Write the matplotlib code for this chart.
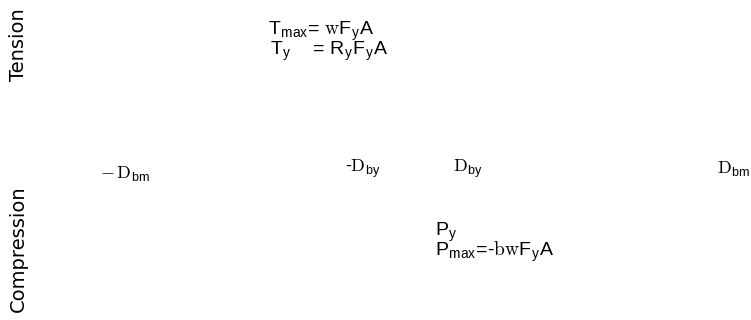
import matplotlib
matplotlib.use("Agg")
import matplotlib.pyplot as plt

plt.rcParams['mathtext.fontset'] = 'custom'
plt.rcParams['mathtext.rm'] = 'cmr10'
plt.rcParams['mathtext.sf'] = 'Liberation Sans'
plt.rcParams['mathtext.it'] = 'cmr10'

# Displacement labels (x in units of D_by), row at force = 0
disp_labels = [r'$-\,\mathrm{D}_{\mathsf{bm}}$', r'-$\mathrm{D}_{\mathsf{by}}$',
               r'$\mathrm{D}_{\mathsf{by}}$', r'$\mathrm{D}_{\mathsf{bm}}$']
disp_x = [-6.18, -1.37, 0.75, 5.92]
disp_y = [-0.04, 0.01, 0.01, 0.01]

# Force annotations
force_labels = [r'T$_{\mathsf{max}}$= $\mathrm{w}$F$_{\mathsf{y}}$A',
                r'T$_{\mathsf{y}}$    = R$_{\mathsf{y}}$F$_{\mathsf{y}}$A',
                r'P$_{\mathsf{y}}$',
                r'P$_{\mathsf{max}}$=-$\mathrm{bw}$F$_{\mathsf{y}}$A']
force_x = [-2.88, -2.84, 0.39, 0.39]
force_y = [1.35, 1.15, -0.66, -0.86]

side_labels = ['Tension', 'Compression']
side_y = [1.25, -0.79]

fig = plt.figure(figsize=(7.51, 3.2), dpi=100)
ax = fig.add_axes([0, 0, 1, 1])
ax.set_xlim(-415 / 51, 336 / 51)
ax.set_ylim(-1.5, 1.7)
ax.axis('off')

for lab, x, y in zip(disp_labels, disp_x, disp_y):
    ax.text(x, y, lab, ha='left', va='center', fontsize=13,
            family='Liberation Sans', color='black')

for lab, x, y in zip(force_labels, force_x, force_y):
    ax.text(x, y, lab, ha='left', va='baseline', fontsize=14,
            family='Liberation Sans', color='black')

for lab, y in zip(side_labels, side_y):
    ax.text(-7.78, y, lab, rotation=90, ha='center', va='center',
            fontsize=14, family='DejaVu Sans', color='black')

fig.savefig('out.png', dpi=100, facecolor='white')
